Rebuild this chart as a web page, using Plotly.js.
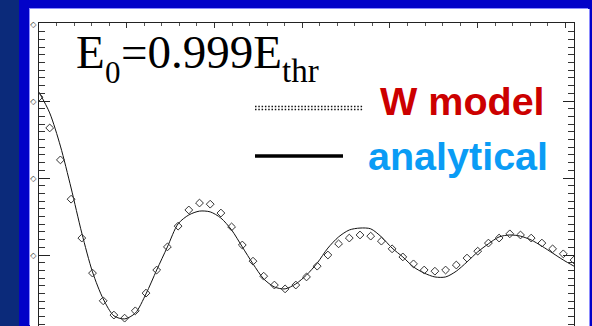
<!DOCTYPE html>
<html>
<head>
<meta charset="utf-8">
<script src="https://cdn.plot.ly/plotly-3.0.1.min.js"></script>
<style>
  html, body { margin:0; padding:0; width:592px; height:326px; overflow:hidden; background:#0202c8; }
  #navy { position:absolute; left:0; top:0; width:19px; height:326px; background:#0b2a7a; }
  #panel { position:absolute; left:30px; top:9px; width:559px; height:317px; background:#fff; box-shadow: -1px -1px 0 #8c8cff, 1px 0 0 #8c8cff; }
  #chart { position:absolute; left:0; top:0; width:559px; height:317px; }
</style>
</head>
<body>
<div id="navy"></div>
<div id="panel"><div id="chart"></div></div>
<script>
// ---- data ----
const steps = [0,1,2,3,4,5,6,7,8,9,10,11,12,13,14,15,16,17,18,19,20,21,22,23,24,25,26,27,28,29,30,31,32,33,34,35,36,37,38,39,40,41,42,43,44,45,46,47,48,49,50];
const wModel = [0.810,0.730,0.647,0.545,0.444,0.353,0.281,0.244,0.236,0.255,0.301,0.361,0.421,0.475,0.517,0.535,0.532,0.509,0.473,0.426,0.384,0.345,0.322,0.312,0.322,0.343,0.371,0.400,0.429,0.444,0.452,0.449,0.436,0.416,0.395,0.377,0.361,0.358,0.361,0.374,0.392,0.410,0.431,0.444,0.455,0.452,0.444,0.431,0.416,0.403,0.387];
const analytical = [0.823,0.769,0.683,0.574,0.457,0.356,0.286,0.242,0.234,0.249,0.299,0.361,0.421,0.481,0.504,0.514,0.512,0.496,0.465,0.421,0.377,0.338,0.317,0.312,0.325,0.348,0.379,0.418,0.447,0.465,0.470,0.468,0.447,0.418,0.395,0.369,0.353,0.343,0.343,0.358,0.382,0.408,0.429,0.447,0.452,0.449,0.439,0.423,0.405,0.387,0.371];
const yTickVals = [0.4,0.6,0.8,1.0];
const yTickText = ['◇','◇','◇','◇'];
const seriesNames = ['W model','analytical'];

// ---- layout helpers (page pixels -> paper coords of plot area) ----
const PL = 39, PR = 574, PT = 23, PB = 326;
const px = x => (x - PL) / (PR - PL);
const py = y => (PB - y) / (PB - PT);

const traces = [
  { x: steps, y: analytical, type:'scatter', mode:'lines', name: seriesNames[1],
    line:{color:'#111', width:1, shape:'spline', smoothing:0.8}, cliponaxis:true },
  { x: steps, y: wModel, type:'scatter', mode:'markers', name: seriesNames[0],
    marker:{symbol:'diamond-open', size:6, color:'#333', line:{width:1, color:'#333'}}, cliponaxis:true }
];

const serif = 'Liberation Serif, Times New Roman, serif';
const sans = 'Liberation Sans, Arial, sans-serif';

const layout = {
  width:559, height:317,
  margin:{l:9, r:15, t:14, b:0, pad:0},
  paper_bgcolor:'#ffffff', plot_bgcolor:'#ffffff',
  showlegend:false,
  xaxis:{
    range:[0,50], side:'top', showline:true, linecolor:'#222', linewidth:1, mirror:false,
    ticks:'inside', ticklen:5, tickwidth:1, tickcolor:'#333', tickmode:'linear', tick0:0, dtick:8.2,
    showticklabels:false, showgrid:false, zeroline:false,
    minor:{ticks:'inside', ticklen:3, tickwidth:1, tickcolor:'#555', tick0:0, dtick:1.64, showgrid:false}
  },
  yaxis:{
    range:[0.2156,1.0026], showline:true, linecolor:'#222', linewidth:1, mirror:'ticks',
    ticks:'inside', ticklen:11, tickwidth:1, tickcolor:'#222',
    tickmode:'array', tickvals:yTickVals, ticktext:yTickText,
    tickfont:{family:'DejaVu Sans', size:8, color:'#333'},
    showgrid:false, zeroline:false,
    minor:{ticks:'inside', ticklen:6, tickwidth:1, tickcolor:'#333', tick0:0, dtick:0.02, showgrid:false}
  },
  shapes:[
    {type:'line', xref:'paper', yref:'paper', x0:px(255), x1:px(363), y0:py(106.5), y1:py(106.5),
     line:{color:'#111', width:1.4, dash:'1.5px,1.8px'}},
    {type:'line', xref:'paper', yref:'paper', x0:px(255), x1:px(363), y0:py(109.5), y1:py(109.5),
     line:{color:'#111', width:1.4, dash:'1.5px,1.8px'}},
    {type:'line', xref:'paper', yref:'paper', x0:px(255), x1:px(343), y0:py(156), y1:py(156),
     line:{color:'#000', width:3.5}}
  ],
  annotations:[
    {xref:'paper', yref:'paper', x:px(75), y:py(52.1), xanchor:'left', yanchor:'middle', showarrow:false,
     text:'E', font:{family:serif, size:47, color:'#000'}, borderpad:0},
    {xref:'paper', yref:'paper', x:px(104), y:py(72.5), xanchor:'left', yanchor:'middle', showarrow:false,
     text:'0', font:{family:serif, size:31, color:'#000'}, borderpad:0},
    {xref:'paper', yref:'paper', x:px(120), y:py(52.1), xanchor:'left', yanchor:'middle', showarrow:false,
     text:'=0.999E', font:{family:serif, size:47, color:'#000'}, borderpad:0},
    {xref:'paper', yref:'paper', x:px(281), y:py(70.9), xanchor:'left', yanchor:'middle', showarrow:false,
     text:'thr', font:{family:serif, size:33, color:'#000'}, borderpad:0},
    {xref:'paper', yref:'paper', x:px(379), y:py(100.5), xanchor:'left', yanchor:'middle', showarrow:false,
     text:'<b>'+seriesNames[0]+'</b>', font:{family:sans, size:39.5, color:'#cc0000'}, borderpad:0},
    {xref:'paper', yref:'paper', x:px(367), y:py(155.5), xanchor:'left', yanchor:'middle', showarrow:false,
     text:'<b>'+seriesNames[1]+'</b>', font:{family:sans, size:39.5, color:'#0a9cf5'}, borderpad:0}
  ]
};

Plotly.newPlot('chart', traces, layout, {staticPlot:true, displayModeBar:false});
</script>
</body>
</html>
